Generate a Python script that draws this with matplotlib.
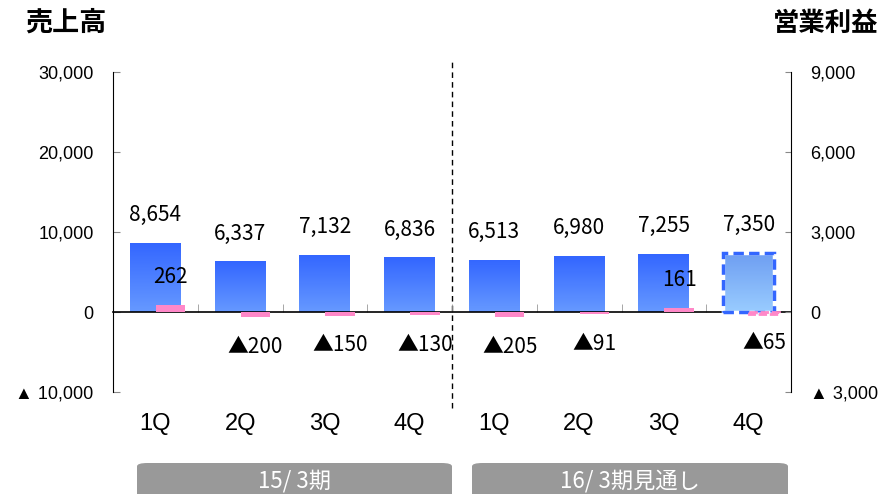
import numpy as np
import matplotlib
matplotlib.use('Agg')
import matplotlib.pyplot as plt
from matplotlib.patches import FancyBboxPatch
from matplotlib.colors import LinearSegmentedColormap

# データ
quarters = ['1Q', '2Q', '3Q', '4Q', '1Q', '2Q', '3Q', '4Q']
sales = [8654, 6337, 7132, 6836, 6513, 6980, 7255, 7350]
op_income = [262, -200, -150, -130, -205, -91, 161, -65]
periods = ['15/ 3期', '16/ 3期見通し']
sales_ticks = [-10000, 0, 10000, 20000, 30000]
op_ticks = [-3000, 0, 3000, 6000, 9000]

num_font = ['Liberation Sans', 'DejaVu Sans']
jp_font = ['Noto Sans CJK JP', 'DejaVu Sans']


def fmt(v, space=''):
    if v < 0:
        return '▲' + space + f'{-v:,}'
    return f'{v:,}'


fig = plt.figure(figsize=(8.83, 4.94), dpi=100)
ax = fig.add_axes([113/883, 102/494, 678/883, 320/494])
ax2 = ax.twinx()

x = np.arange(len(quarters))
bw = 0.6
pw = 0.35
poff = 0.18

# 売上高の棒（グラデーション）
cm_solid = LinearSegmentedColormap.from_list('b', ['#6699FF', '#3366FF'])
cm_light = LinearSegmentedColormap.from_list('bl', ['#99CCFF', '#6E9EF2'])
grad = np.linspace(0, 1, 100).reshape(-1, 1)
bars = ax.bar(x, sales, width=bw, color='none', edgecolor='none', zorder=2)
for i, b in enumerate(bars):
    x0, y0 = b.get_x(), b.get_y()
    w, h = b.get_width(), b.get_height()
    cmap = cm_light if i == len(bars) - 1 else cm_solid
    im = ax.imshow(grad, extent=(x0, x0 + w, y0, y0 + h), origin='lower',
                   aspect='auto', cmap=cmap, zorder=2)
    im.set_clip_path(b)
# 見通しの棒は破線の枠
ax.bar(x[-1], sales[-1], width=bw, color='none', edgecolor='white', linewidth=2.5, zorder=3)
ax.bar(x[-1], sales[-1], width=bw, color='none', edgecolor='#3366FF', linewidth=2.5,
       linestyle=(0, (3, 1.5)), zorder=3)

for xi, v in zip(x, sales):
    ax.annotate(fmt(v), (xi, v), xytext=(0, 20), textcoords='offset points',
                ha='center', va='center', fontsize=15, family=jp_font)

# 営業利益の棒
pcol = '#FF88C8'
ax2.bar(x[:-1] + poff, op_income[:-1], width=pw, color=pcol, zorder=3)
ax2.bar(x[-1] + poff, op_income[-1], width=pw, color='white', edgecolor=pcol,
        linewidth=2, linestyle=(0, (3, 1)), zorder=3)
for xi, v in zip(x, op_income):
    off = 20 if v > 0 else -21
    ax2.annotate(fmt(v), (xi + poff, v), xytext=(0, off), textcoords='offset points',
                 ha='center', va='center', fontsize=15, family=jp_font)

# 軸
ax.set_xlim(-0.5, len(quarters) - 0.5)
ax.set_ylim(-10000, 30000)
ax2.set_ylim(-3000, 9000)

ax.spines['top'].set_visible(False)
ax.spines['right'].set_visible(False)
ax.spines['bottom'].set_position(('data', 0))
ax.spines['bottom'].set_linewidth(1.2)
for s in ['top', 'left', 'bottom']:
    ax2.spines[s].set_visible(False)

ax.set_yticks(sales_ticks)
ax.set_yticklabels([fmt(v, ' ') for v in sales_ticks], family=num_font, fontsize=13)
ax.tick_params(axis='y', direction='in', length=5, color='#888888', pad=14)

ax2.set_yticks(op_ticks)
ax2.set_yticklabels([fmt(v, ' ') for v in op_ticks], family=num_font, fontsize=13)
ax2.tick_params(axis='y', direction='in', length=4, color='#888888', pad=14)

ax.set_xticks(x)
ax.set_xticklabels(quarters, family=num_font, fontsize=17)
ax.set_xticks(np.arange(0.5, len(quarters) - 1, 1), minor=True)
ax.tick_params(axis='x', which='major', length=0, pad=73)
ax.tick_params(axis='x', which='minor', direction='in', length=6, color='#999999')

# 期の区切り線
ax.axvline(3.5, ymin=-0.05, ymax=1.03, color='black', linestyle=(0, (4, 3)),
           linewidth=1, clip_on=False, zorder=1)

# タイトル
fig.text(25/883, 1 - 23/494, '売上高', ha='left', va='center', fontsize=19.5,
         fontweight='bold', family=jp_font)
fig.text(878/883, 1 - 23/494, '営業利益', ha='right', va='center', fontsize=19,
         fontweight='bold', family=jp_font)

# 期ラベルの帯
for (x0, x1), label in zip([(137, 452), (472, 788)], periods):
    box = FancyBboxPatch((x0/883, 1 - 530/494), (x1 - x0)/883, 67/494,
                         boxstyle='round,pad=0,rounding_size=0.012',
                         transform=fig.transFigure, facecolor='#999999',
                         edgecolor='none', mutation_aspect=494/883, clip_on=False)
    fig.patches.append(box)
    fig.text((x0 + x1) / 2 / 883, 1 - 481/494, label, ha='center', va='center',
             fontsize=16, color='white', family=jp_font)

fig.savefig('out.png', dpi=100)
